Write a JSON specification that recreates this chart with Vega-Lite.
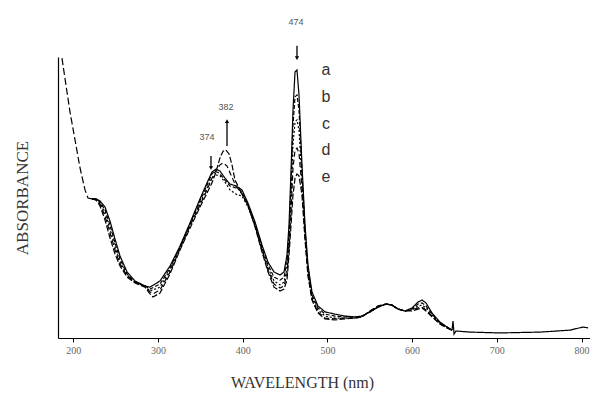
{
"$schema":"https://vega.github.io/schema/vega-lite/v6.json",
"width":532,"height":281,
"autosize":{"type":"none"},
"padding":{"left":58,"top":57,"right":0,"bottom":59},
"background":"white",
"config":{"view":{"stroke":null}},
"datasets":{
"curves":[
{"s":"common","w":186.7,"a":0.996},{"s":"common","w":191.4,"a":0.900},{"s":"common","w":196.2,"a":0.804},{"s":"common","w":202.1,"a":0.705},{"s":"common","w":208.0,"a":0.605},{"s":"common","w":213.9,"a":0.527},{"s":"common","w":217.4,"a":0.498},{"s":"common","w":222.1,"a":0.495},
{"s":"tail","w":647.1,"a":0.028},{"s":"tail","w":648.3,"a":0.060},{"s":"tail","w":649.5,"a":0.014},{"s":"tail","w":651.8,"a":0.025},{"s":"tail","w":668.4,"a":0.021},{"s":"tail","w":703.8,"a":0.018},{"s":"tail","w":751.0,"a":0.021},{"s":"tail","w":786.4,"a":0.028},{"s":"tail","w":801.8,"a":0.039},{"s":"tail","w":807.7,"a":0.036},
{"s":"a","w":222.1,"a":0.495},{"s":"a","w":226.9,"a":0.495},{"s":"a","w":231.6,"a":0.488},{"s":"a","w":237.5,"a":0.466},{"s":"a","w":243.4,"a":0.416},{"s":"a","w":249.3,"a":0.352},{"s":"a","w":255.2,"a":0.292},{"s":"a","w":263.5,"a":0.235},{"s":"a","w":272.9,"a":0.203},{"s":"a","w":284.7,"a":0.185},{"s":"a","w":290.6,"a":0.181},{"s":"a","w":302.4,"a":0.203},{"s":"a","w":314.2,"a":0.256},{"s":"a","w":326.0,"a":0.327},{"s":"a","w":337.8,"a":0.409},{"s":"a","w":349.6,"a":0.495},{"s":"a","w":357.9,"a":0.552},{"s":"a","w":363.8,"a":0.591},{"s":"a","w":368.5,"a":0.601},{"s":"a","w":373.2,"a":0.594},{"s":"a","w":379.1,"a":0.569},{"s":"a","w":385.0,"a":0.548},{"s":"a","w":392.1,"a":0.541},{"s":"a","w":399.2,"a":0.527},{"s":"a","w":406.3,"a":0.480},{"s":"a","w":414.6,"a":0.413},{"s":"a","w":422.8,"a":0.331},{"s":"a","w":429.9,"a":0.270},{"s":"a","w":437.0,"a":0.235},{"s":"a","w":444.1,"a":0.224},{"s":"a","w":448.8,"a":0.235},{"s":"a","w":452.3,"a":0.295},{"s":"a","w":454.7,"a":0.402},{"s":"a","w":457.1,"a":0.598},{"s":"a","w":459.4,"a":0.811},{"s":"a","w":461.8,"a":0.947},{"s":"a","w":464.1,"a":0.954},{"s":"a","w":466.5,"a":0.865},{"s":"a","w":470.0,"a":0.616},{"s":"a","w":473.6,"a":0.402},{"s":"a","w":477.1,"a":0.260},{"s":"a","w":481.8,"a":0.164},{"s":"a","w":488.9,"a":0.114},{"s":"a","w":497.2,"a":0.093},{"s":"a","w":509.0,"a":0.085},{"s":"a","w":520.8,"a":0.078},{"s":"a","w":532.6,"a":0.075},{"s":"a","w":540.9,"a":0.078},{"s":"a","w":550.3,"a":0.093},{"s":"a","w":559.8,"a":0.110},{"s":"a","w":569.2,"a":0.121},{"s":"a","w":576.3,"a":0.117},{"s":"a","w":583.4,"a":0.103},{"s":"a","w":591.6,"a":0.096},{"s":"a","w":599.9,"a":0.107},{"s":"a","w":607.0,"a":0.128},{"s":"a","w":611.7,"a":0.135},{"s":"a","w":616.4,"a":0.125},{"s":"a","w":623.5,"a":0.089},{"s":"a","w":632.9,"a":0.057},{"s":"a","w":641.2,"a":0.039},{"s":"a","w":647.1,"a":0.028},
{"s":"b","w":222.1,"a":0.495},{"s":"b","w":226.9,"a":0.495},{"s":"b","w":231.6,"a":0.484},{"s":"b","w":237.5,"a":0.456},{"s":"b","w":243.4,"a":0.402},{"s":"b","w":249.3,"a":0.338},{"s":"b","w":255.2,"a":0.281},{"s":"b","w":263.5,"a":0.228},{"s":"b","w":272.9,"a":0.199},{"s":"b","w":284.7,"a":0.185},{"s":"b","w":290.6,"a":0.174},{"s":"b","w":302.4,"a":0.192},{"s":"b","w":314.2,"a":0.249},{"s":"b","w":326.0,"a":0.324},{"s":"b","w":337.8,"a":0.406},{"s":"b","w":349.6,"a":0.488},{"s":"b","w":357.9,"a":0.544},{"s":"b","w":363.8,"a":0.584},{"s":"b","w":367.3,"a":0.594},{"s":"b","w":372.1,"a":0.587},{"s":"b","w":379.1,"a":0.562},{"s":"b","w":385.0,"a":0.541},{"s":"b","w":392.1,"a":0.534},{"s":"b","w":399.2,"a":0.520},{"s":"b","w":406.3,"a":0.473},{"s":"b","w":414.6,"a":0.406},{"s":"b","w":422.8,"a":0.324},{"s":"b","w":429.9,"a":0.260},{"s":"b","w":437.0,"a":0.217},{"s":"b","w":444.1,"a":0.206},{"s":"b","w":448.8,"a":0.217},{"s":"b","w":452.3,"a":0.270},{"s":"b","w":454.7,"a":0.367},{"s":"b","w":457.1,"a":0.544},{"s":"b","w":459.4,"a":0.758},{"s":"b","w":461.8,"a":0.858},{"s":"b","w":464.1,"a":0.865},{"s":"b","w":466.5,"a":0.811},{"s":"b","w":470.0,"a":0.591},{"s":"b","w":473.6,"a":0.384},{"s":"b","w":477.1,"a":0.249},{"s":"b","w":481.8,"a":0.153},{"s":"b","w":488.9,"a":0.107},{"s":"b","w":497.2,"a":0.085},{"s":"b","w":509.0,"a":0.078},{"s":"b","w":520.8,"a":0.075},{"s":"b","w":532.6,"a":0.075},{"s":"b","w":540.9,"a":0.078},{"s":"b","w":550.3,"a":0.093},{"s":"b","w":559.8,"a":0.110},{"s":"b","w":569.2,"a":0.121},{"s":"b","w":576.3,"a":0.117},{"s":"b","w":583.4,"a":0.103},{"s":"b","w":591.6,"a":0.096},{"s":"b","w":599.9,"a":0.103},{"s":"b","w":607.0,"a":0.121},{"s":"b","w":611.7,"a":0.125},{"s":"b","w":616.4,"a":0.114},{"s":"b","w":623.5,"a":0.085},{"s":"b","w":632.9,"a":0.053},{"s":"b","w":641.2,"a":0.039},{"s":"b","w":647.1,"a":0.028},
{"s":"c","w":222.1,"a":0.495},{"s":"c","w":226.9,"a":0.495},{"s":"c","w":231.6,"a":0.480},{"s":"c","w":237.5,"a":0.445},{"s":"c","w":243.4,"a":0.388},{"s":"c","w":249.3,"a":0.324},{"s":"c","w":255.2,"a":0.270},{"s":"c","w":263.5,"a":0.224},{"s":"c","w":272.9,"a":0.199},{"s":"c","w":284.7,"a":0.185},{"s":"c","w":290.6,"a":0.167},{"s":"c","w":302.4,"a":0.181},{"s":"c","w":314.2,"a":0.242},{"s":"c","w":326.0,"a":0.320},{"s":"c","w":337.8,"a":0.402},{"s":"c","w":349.6,"a":0.480},{"s":"c","w":357.9,"a":0.534},{"s":"c","w":363.8,"a":0.569},{"s":"c","w":368.5,"a":0.580},{"s":"c","w":373.2,"a":0.577},{"s":"c","w":379.1,"a":0.555},{"s":"c","w":385.0,"a":0.527},{"s":"c","w":392.1,"a":0.512},{"s":"c","w":399.2,"a":0.505},{"s":"c","w":406.3,"a":0.466},{"s":"c","w":414.6,"a":0.402},{"s":"c","w":422.8,"a":0.317},{"s":"c","w":429.9,"a":0.249},{"s":"c","w":437.0,"a":0.203},{"s":"c","w":444.1,"a":0.189},{"s":"c","w":448.8,"a":0.199},{"s":"c","w":452.3,"a":0.249},{"s":"c","w":454.7,"a":0.342},{"s":"c","w":457.1,"a":0.491},{"s":"c","w":459.4,"a":0.687},{"s":"c","w":461.8,"a":0.769},{"s":"c","w":464.1,"a":0.776},{"s":"c","w":466.5,"a":0.740},{"s":"c","w":470.0,"a":0.562},{"s":"c","w":473.6,"a":0.374},{"s":"c","w":477.1,"a":0.238},{"s":"c","w":481.8,"a":0.146},{"s":"c","w":488.9,"a":0.100},{"s":"c","w":497.2,"a":0.078},{"s":"c","w":509.0,"a":0.071},{"s":"c","w":520.8,"a":0.071},{"s":"c","w":532.6,"a":0.071},{"s":"c","w":540.9,"a":0.078},{"s":"c","w":550.3,"a":0.093},{"s":"c","w":559.8,"a":0.110},{"s":"c","w":569.2,"a":0.121},{"s":"c","w":576.3,"a":0.117},{"s":"c","w":583.4,"a":0.103},{"s":"c","w":591.6,"a":0.096},{"s":"c","w":599.9,"a":0.100},{"s":"c","w":607.0,"a":0.114},{"s":"c","w":611.7,"a":0.117},{"s":"c","w":616.4,"a":0.107},{"s":"c","w":623.5,"a":0.082},{"s":"c","w":632.9,"a":0.053},{"s":"c","w":641.2,"a":0.039},{"s":"c","w":647.1,"a":0.028},
{"s":"d","w":222.1,"a":0.495},{"s":"d","w":226.9,"a":0.491},{"s":"d","w":231.6,"a":0.477},{"s":"d","w":237.5,"a":0.434},{"s":"d","w":243.4,"a":0.374},{"s":"d","w":249.3,"a":0.313},{"s":"d","w":255.2,"a":0.263},{"s":"d","w":263.5,"a":0.221},{"s":"d","w":272.9,"a":0.199},{"s":"d","w":284.7,"a":0.185},{"s":"d","w":290.6,"a":0.164},{"s":"d","w":294.1,"a":0.157},{"s":"d","w":302.4,"a":0.171},{"s":"d","w":314.2,"a":0.235},{"s":"d","w":326.0,"a":0.317},{"s":"d","w":337.8,"a":0.399},{"s":"d","w":349.6,"a":0.473},{"s":"d","w":357.9,"a":0.527},{"s":"d","w":363.8,"a":0.569},{"s":"d","w":368.5,"a":0.598},{"s":"d","w":373.2,"a":0.616},{"s":"d","w":376.8,"a":0.623},{"s":"d","w":381.5,"a":0.612},{"s":"d","w":386.2,"a":0.580},{"s":"d","w":392.1,"a":0.541},{"s":"d","w":399.2,"a":0.512},{"s":"d","w":406.3,"a":0.470},{"s":"d","w":414.6,"a":0.399},{"s":"d","w":422.8,"a":0.313},{"s":"d","w":429.9,"a":0.242},{"s":"d","w":437.0,"a":0.192},{"s":"d","w":444.1,"a":0.178},{"s":"d","w":448.8,"a":0.185},{"s":"d","w":452.3,"a":0.228},{"s":"d","w":454.7,"a":0.320},{"s":"d","w":457.1,"a":0.448},{"s":"d","w":459.4,"a":0.605},{"s":"d","w":461.8,"a":0.669},{"s":"d","w":464.1,"a":0.676},{"s":"d","w":466.5,"a":0.658},{"s":"d","w":470.0,"a":0.534},{"s":"d","w":473.6,"a":0.359},{"s":"d","w":477.1,"a":0.228},{"s":"d","w":481.8,"a":0.139},{"s":"d","w":488.9,"a":0.093},{"s":"d","w":497.2,"a":0.071},{"s":"d","w":509.0,"a":0.068},{"s":"d","w":520.8,"a":0.071},{"s":"d","w":532.6,"a":0.071},{"s":"d","w":540.9,"a":0.075},{"s":"d","w":550.3,"a":0.096},{"s":"d","w":559.8,"a":0.114},{"s":"d","w":569.2,"a":0.121},{"s":"d","w":576.3,"a":0.117},{"s":"d","w":583.4,"a":0.103},{"s":"d","w":591.6,"a":0.096},{"s":"d","w":599.9,"a":0.100},{"s":"d","w":607.0,"a":0.107},{"s":"d","w":611.7,"a":0.110},{"s":"d","w":616.4,"a":0.100},{"s":"d","w":623.5,"a":0.078},{"s":"d","w":632.9,"a":0.050},{"s":"d","w":641.2,"a":0.036},{"s":"d","w":647.1,"a":0.028},
{"s":"e","w":222.1,"a":0.495},{"s":"e","w":226.9,"a":0.491},{"s":"e","w":231.6,"a":0.470},{"s":"e","w":237.5,"a":0.420},{"s":"e","w":243.4,"a":0.356},{"s":"e","w":249.3,"a":0.299},{"s":"e","w":255.2,"a":0.256},{"s":"e","w":263.5,"a":0.217},{"s":"e","w":272.9,"a":0.196},{"s":"e","w":284.7,"a":0.181},{"s":"e","w":290.6,"a":0.157},{"s":"e","w":294.1,"a":0.146},{"s":"e","w":302.4,"a":0.160},{"s":"e","w":314.2,"a":0.228},{"s":"e","w":326.0,"a":0.313},{"s":"e","w":337.8,"a":0.391},{"s":"e","w":349.6,"a":0.466},{"s":"e","w":357.9,"a":0.516},{"s":"e","w":363.8,"a":0.552},{"s":"e","w":368.5,"a":0.591},{"s":"e","w":373.2,"a":0.641},{"s":"e","w":376.8,"a":0.665},{"s":"e","w":380.3,"a":0.669},{"s":"e","w":383.9,"a":0.655},{"s":"e","w":387.4,"a":0.616},{"s":"e","w":390.9,"a":0.562},{"s":"e","w":396.9,"a":0.527},{"s":"e","w":406.3,"a":0.473},{"s":"e","w":414.6,"a":0.395},{"s":"e","w":422.8,"a":0.306},{"s":"e","w":429.9,"a":0.235},{"s":"e","w":437.0,"a":0.181},{"s":"e","w":444.1,"a":0.167},{"s":"e","w":448.8,"a":0.174},{"s":"e","w":452.3,"a":0.206},{"s":"e","w":454.7,"a":0.295},{"s":"e","w":457.1,"a":0.402},{"s":"e","w":459.4,"a":0.509},{"s":"e","w":461.8,"a":0.569},{"s":"e","w":464.1,"a":0.584},{"s":"e","w":466.5,"a":0.577},{"s":"e","w":470.0,"a":0.509},{"s":"e","w":473.6,"a":0.349},{"s":"e","w":477.1,"a":0.221},{"s":"e","w":481.8,"a":0.135},{"s":"e","w":488.9,"a":0.089},{"s":"e","w":497.2,"a":0.068},{"s":"e","w":509.0,"a":0.064},{"s":"e","w":520.8,"a":0.068},{"s":"e","w":532.6,"a":0.071},{"s":"e","w":540.9,"a":0.075},{"s":"e","w":550.3,"a":0.096},{"s":"e","w":559.8,"a":0.114},{"s":"e","w":569.2,"a":0.121},{"s":"e","w":576.3,"a":0.117},{"s":"e","w":583.4,"a":0.103},{"s":"e","w":591.6,"a":0.096},{"s":"e","w":599.9,"a":0.096},{"s":"e","w":607.0,"a":0.103},{"s":"e","w":611.7,"a":0.107},{"s":"e","w":616.4,"a":0.096},{"s":"e","w":623.5,"a":0.075},{"s":"e","w":632.9,"a":0.050},{"s":"e","w":641.2,"a":0.036},{"s":"e","w":647.1,"a":0.028}
],
"nums":[{"t":"474","w":463.0,"a":1.125},{"t":"382","w":380.3,"a":0.822},{"t":"374","w":358.0,"a":0.715}],
"arrows":[
{"dir":"down","w":464.1,"a":1.040,"a2":0.996,"h":0.996},
{"dir":"down","w":362.6,"a":0.648,"a2":0.605,"h":0.605},
{"dir":"up","w":381.5,"a":0.772,"a2":0.683,"h":0.772}
],
"letters":[{"t":"a","w":498.4,"a":0.954},{"t":"b","w":498.4,"a":0.857},{"t":"c","w":498.4,"a":0.761},{"t":"d","w":498.4,"a":0.669},{"t":"e","w":498.4,"a":0.573}]
},
"layer":[
{"data":{"name":"curves"},"mark":{"type":"line","color":"black","strokeWidth":1.2,"clip":true},
"encoding":{
"x":{"field":"w","type":"quantitative","scale":{"domain":[182,810],"nice":false,"zero":false},
"axis":{"values":[200,300,400,500,600,700,800],"grid":false,"tickSize":4,"tickColor":"black","domainColor":"black","domainWidth":1.2,"labelFont":"Liberation Serif","labelFontSize":10,"labelColor":"#666","labelPadding":3,"title":"WAVELENGTH   (nm)","titleFont":"Liberation Serif","titleFontSize":16,"titleFontWeight":"normal","titleColor":"#333","titlePadding":19,"titleX":244}},
"y":{"field":"a","type":"quantitative","scale":{"domain":[0,1],"nice":false},
"axis":{"labels":false,"ticks":false,"grid":false,"domainColor":"black","domainWidth":1.2,"title":"ABSORBANCE","titleFont":"Liberation Serif","titleFontSize":17,"titleFontWeight":"normal","titleColor":"#333","titlePadding":27}},
"strokeDash":{"field":"s","type":"nominal","scale":{"domain":["common","a","b","c","d","e","tail"],"range":[[7,3],[1,0],[4,2],[2,2],[5,3],[6,2],[1,0]]},"legend":null}
}},
{"data":{"name":"arrows"},"mark":{"type":"rule","color":"black","strokeWidth":1.3},
"encoding":{"x":{"field":"w","type":"quantitative"},"y":{"field":"a","type":"quantitative"},"y2":{"field":"a2"}}},
{"data":{"name":"arrows"},"mark":{"type":"point","filled":true,"color":"black","size":18,"opacity":1},
"encoding":{"x":{"field":"w","type":"quantitative"},"y":{"field":"h","type":"quantitative"},
"shape":{"field":"dir","type":"nominal","scale":{"domain":["down","up"],"range":["triangle-down","triangle-up"]},"legend":null}}},
{"data":{"name":"nums"},"mark":{"type":"text","font":"Liberation Sans","fontSize":9,"color":"#555"},
"encoding":{"x":{"field":"w","type":"quantitative"},"y":{"field":"a","type":"quantitative"},"text":{"field":"t"}}},
{"data":{"name":"letters"},"mark":{"type":"text","font":"Liberation Sans","fontSize":16,"color":"#333"},
"encoding":{"x":{"field":"w","type":"quantitative"},"y":{"field":"a","type":"quantitative"},"text":{"field":"t"}}}
]
}
